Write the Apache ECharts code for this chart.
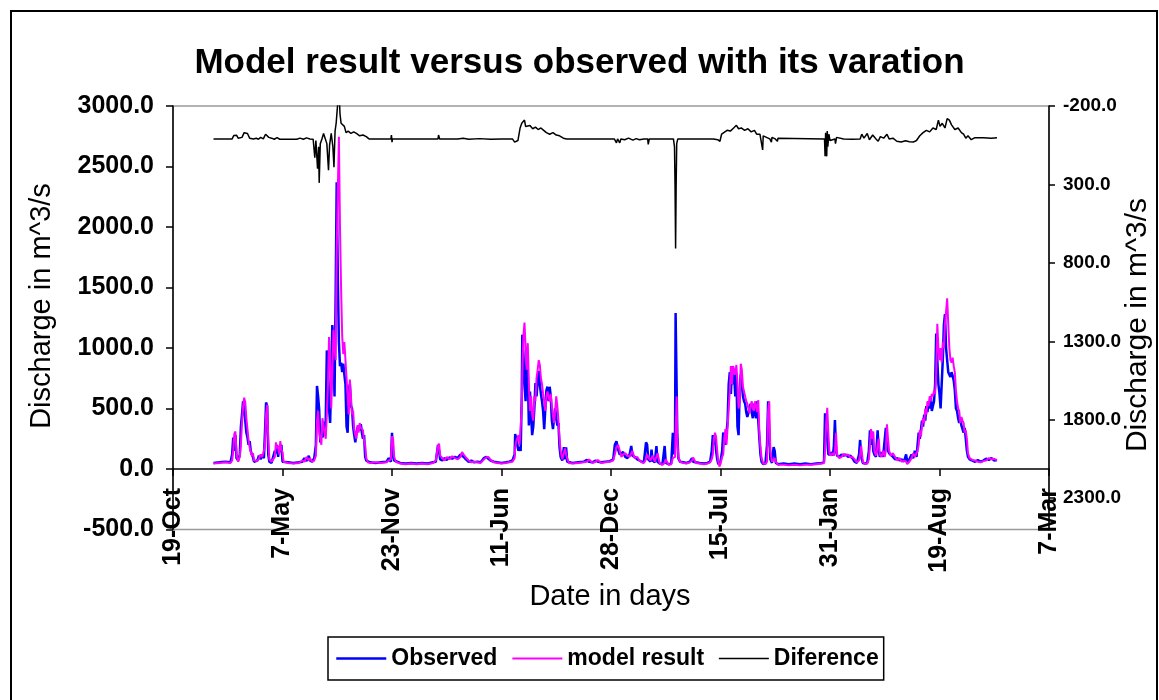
<!DOCTYPE html>
<html>
<head>
<meta charset="utf-8">
<title>Model result versus observed</title>
<script src="https://cdn.jsdelivr.net/npm/echarts@6/dist/echarts.min.js"></script>
<style>
  html, body { margin: 0; padding: 0; background: #ffffff; }
  #chart { width: 1159px; height: 700px; }
</style>
</head>
<body>
<div id="chart"></div>
<script>
// x values are days counted from 19-Oct-1993 (left end of the date axis).
const tickLabels = ['19-Oct', '7-May', '23-Nov', '11-Jun', '28-Dec', '15-Jul', '31-Jan', '19-Aug', '7-Mar'];
const rightTicks = [-200, 300, 800, 1300, 1800, 2300];

// Daily discharge (m^3/s), sampled at the days below
const flowDays = [
  74, 85, 95, 105, 108, 110, 112, 114, 116, 119, 122, 124, 126, 128, 130, 132, 134, 136, 138, 140,
  142, 144, 146, 148, 151, 154, 157, 160, 163, 166, 168, 170, 172, 174, 176, 180, 183, 186, 188, 190,
  192, 194, 196, 198, 200, 202, 210, 220, 230, 236, 240, 244, 248, 250, 254, 258, 261, 263, 265, 267,
  269, 271, 273, 276, 279, 281, 283, 285, 287, 289, 291, 293, 295, 297, 299, 301, 303, 305, 307, 309,
  311, 313, 315, 317, 319, 321, 323, 325, 327, 329, 331, 333, 335, 337, 339, 341, 343, 345, 347, 349,
  351, 353, 356,
  360, 370, 380, 390, 394, 398, 400, 402, 404, 407, 415, 425, 435, 445, 455, 465, 475, 480, 484, 486,
  488, 492, 496, 500, 505, 510, 515, 520, 525, 528, 531, 535, 540, 545, 550, 556, 562, 568, 572, 576,
  580, 586, 592, 600, 608, 614, 620,
  622, 624, 625, 627, 629, 631, 633, 635, 637, 638, 640, 642, 644, 646, 648, 650, 652, 654, 656, 658,
  660, 662, 664, 666, 668, 670, 672, 674, 676, 678, 680, 682, 684, 686, 688, 690, 692, 694, 696, 698,
  700, 702, 704, 706, 708, 711, 714, 716, 718, 720, 723,
  730, 740, 750, 756, 760, 766, 772, 776, 782, 790, 798, 804, 807, 810, 813, 816, 819, 822, 826, 830,
  834, 837, 839, 843, 848, 852, 856, 860, 864, 866, 868, 872, 874, 876, 880, 883, 885, 889, 894, 898,
  900, 905, 910, 913, 915, 917, 918, 920, 921, 923, 926, 932, 938, 944, 948, 950, 955, 962, 970, 976,
  981, 984, 986, 988, 990, 992, 994, 996, 998, 1000, 1003, 1005, 1007, 1009, 1011,
  1013, 1015, 1017, 1019, 1021, 1023, 1025, 1027, 1029, 1031, 1033, 1035, 1037, 1039, 1041, 1043, 1045, 1047, 1049, 1051,
  1053, 1055, 1057, 1059, 1061, 1063, 1065, 1067, 1069, 1071, 1073, 1075, 1078, 1082, 1085, 1087, 1089, 1091, 1094, 1097,
  1099, 1101, 1105,
  1115, 1125, 1135, 1145, 1155, 1165, 1175, 1185, 1189, 1191, 1193, 1195, 1197, 1199, 1201, 1203, 1205, 1207, 1209, 1211,
  1213, 1217, 1221, 1225, 1229, 1233, 1237, 1241, 1245, 1249, 1253, 1255, 1257, 1260, 1264, 1268, 1271, 1273, 1275, 1277,
  1279, 1281, 1284, 1287, 1289, 1291, 1294, 1297, 1300, 1302, 1304, 1306, 1308, 1311, 1315, 1319, 1323, 1327, 1331, 1335,
  1339, 1341, 1345, 1349, 1352,
  1355, 1358, 1360, 1362, 1364, 1366, 1368, 1370, 1372, 1374, 1376, 1378, 1380, 1382, 1384, 1386, 1388, 1390, 1392, 1394,
  1396, 1398, 1400, 1402, 1404, 1406, 1408, 1410, 1412, 1414, 1416, 1418, 1420, 1422, 1424, 1426, 1428, 1430, 1432, 1434,
  1436, 1438, 1440, 1442, 1444, 1446, 1448, 1450, 1452, 1455, 1460, 1465, 1470, 1475, 1480, 1485, 1490, 1495, 1500, 1505
];

const observed = [
  50, 55, 60, 55, 120, 260, 150, 280, 90, 70, 120, 350, 450, 560, 480, 400, 300, 260, 200, 230,
  150, 120, 100, 60, 55, 70, 110, 80, 120, 90, 300, 550, 520, 120, 60, 50, 55, 150, 130, 200,
  100, 180, 140, 200, 60, 50, 55, 50, 55, 60, 90, 65, 110, 70, 60, 90, 200, 686, 600, 490,
  220, 330, 260, 250, 400, 980, 850, 500, 380, 750, 1190, 1050, 600, 1400, 2370, 1600, 1050, 850, 880, 800,
  870, 780, 700, 350, 300, 650, 700, 520, 500, 350, 280, 220, 300, 340, 360, 320, 370, 300, 250, 280,
  100, 70, 60,
  55, 50, 55, 60, 90, 60, 300, 120, 70, 55, 50, 45, 50, 45, 50, 45, 55, 60, 200, 150,
  80, 70, 90, 75, 95, 85, 100, 90, 120, 130, 100, 80, 60, 70, 55, 60, 55, 90, 100, 85,
  70, 60, 55, 50, 55, 60, 70,
  70, 120, 290, 280, 200, 150, 180, 150, 600, 1110, 950, 700, 560, 960, 800, 360, 640, 450, 280, 350,
  500, 710, 600, 720, 810, 700, 620, 560, 480, 330, 500, 650, 680, 560, 680, 600, 400, 330, 420, 500,
  420, 360, 380, 180, 100, 70, 180, 80, 180, 60, 55,
  50, 55, 60, 75, 60, 55, 70, 60, 55, 60, 65, 80, 200, 230, 160, 120, 110, 140, 100, 90,
  120, 190, 110, 100, 80, 70, 60, 55, 220, 200, 80, 60, 160, 70, 55, 190, 60, 45, 40, 190,
  50, 40, 45, 300, 120, 300, 1290, 1290, 300, 90, 60, 55, 50, 60, 90, 60, 55, 50, 45, 50,
  60, 150, 280, 200, 280, 150, 80, 40, 30, 60, 150, 300, 280, 200, 300,
  400, 700, 800, 620, 850, 700, 780, 600, 790, 350, 280, 650, 780, 700, 600, 560, 540, 470, 430, 420,
  500, 540, 470, 420, 540, 460, 420, 560, 400, 250, 120, 60, 40, 45, 200, 560, 300, 80, 50, 180,
  150, 50, 40,
  45, 40, 45, 40, 45, 40, 45, 50, 55, 460, 350, 250, 120, 110, 120, 140, 110, 180, 405, 150,
  110, 100, 120, 110, 120, 100, 110, 90, 60, 50, 120, 240, 100, 50, 45, 50, 150, 320, 200, 310,
  150, 120, 100, 320, 150, 100, 140, 100, 90, 340, 200, 150, 130, 140, 100, 80, 90, 70, 80, 60,
  120, 60, 80, 120, 90,
  150, 100, 200, 300, 250, 320, 400, 350, 450, 400, 520, 470, 560, 500, 600, 480, 520, 560, 700, 1120,
  900, 700, 620, 500, 700, 900, 1190, 1280, 1000, 900, 800, 780, 760, 800, 770, 730, 650, 500, 480, 420,
  380, 420, 360, 350, 300, 340, 250, 150, 100, 80, 70, 60, 75, 60, 70, 85, 75, 90, 70, 75
];

const modelResult = [
  45, 50, 55, 50, 70, 150, 290, 310, 120, 60, 100, 200, 380, 520, 590, 550, 420, 330, 240, 180,
  190, 110, 130, 70, 60, 65, 90, 120, 100, 150, 200, 450, 530, 250, 80, 60, 50, 100, 220, 170,
  190, 120, 230, 160, 140, 60, 50, 45, 50, 70, 60, 100, 70, 90, 60, 70, 110, 400, 480, 300,
  300, 200, 420, 320, 250, 450, 700, 1090, 900, 500, 800, 1150, 1000, 900, 1800, 2300, 2745, 2000, 1500, 1100,
  950, 1050, 900, 750, 600, 450, 740, 600, 450, 480, 330, 280, 250, 360, 300, 380, 340, 350, 320, 230,
  200, 90, 55,
  50, 55, 50, 55, 70, 80, 270, 250, 100, 60, 45, 40, 45, 40, 45, 40, 50, 70, 190, 210,
  110, 90, 70, 100, 80, 105, 90, 80, 100, 140, 120, 95, 70, 55, 60, 55, 50, 80, 95, 100,
  75, 55, 50, 45, 50, 55, 60,
  60, 90, 180, 230, 240, 280, 200, 350, 500, 800, 1100, 1210, 1000, 820, 1040, 700, 480, 600, 450, 400,
  600, 560, 750, 820, 900, 860, 750, 700, 620, 560, 480, 600, 640, 650, 560, 620, 520, 440, 380, 480,
  600, 520, 400, 250, 150, 80, 80, 170, 120, 90, 50,
  45, 50, 55, 60, 80, 50, 60, 75, 50, 55, 60, 70, 120, 180, 200, 150, 100, 120, 130, 110,
  100, 130, 150, 90, 100, 70, 55, 50, 80, 120, 100, 70, 60, 110, 60, 70, 130, 45, 35, 50,
  80, 35, 40, 90, 80, 100, 300, 600, 250, 100, 60, 50, 45, 55, 70, 95, 50, 45, 40, 45,
  55, 80, 120, 250, 300, 260, 150, 60, 20, 40, 100, 120, 260, 330, 200,
  350, 500, 650, 850, 700, 850, 820, 780, 860, 700, 500, 560, 870, 820, 680, 640, 600, 560, 540, 500,
  460, 520, 560, 500, 480, 560, 520, 470, 570, 300, 180, 90, 45, 40, 60, 480, 560, 150, 60, 60,
  90, 60, 35,
  35, 30, 35, 30, 35, 35, 40, 45, 50, 150, 380, 505, 300, 130, 110, 120, 130, 110, 150, 300,
  120, 90, 100, 125, 110, 120, 95, 100, 80, 55, 70, 120, 190, 60, 40, 45, 80, 200, 330, 250,
  310, 150, 110, 120, 250, 120, 100, 150, 100, 150, 370, 250, 150, 110, 130, 100, 70, 90, 60, 70,
  60, 40, 60, 90, 130,
  100, 130, 150, 200, 320, 270, 350, 420, 380, 500, 450, 560, 520, 600, 560, 620, 600, 650, 620, 800,
  1200, 1000, 900, 1000, 880, 1050, 1000, 1200, 1300, 1410, 1200, 1000, 900, 880, 920, 850, 800, 650, 560, 500,
  480, 380, 430, 400, 380, 300, 320, 250, 130, 90, 75, 70, 60, 55, 65, 70, 90, 80, 85, 70
];

// Observed minus model result (m^3/s), right-hand axis
const diffDays = [
  74, 108, 111, 116, 119, 126, 130, 133, 136, 140, 143, 147, 152, 156, 160, 165, 169, 172, 175, 180,
  185, 190, 195, 226, 232, 238, 244, 250, 256, 259, 261, 264, 266, 267, 269, 272, 275, 278, 281, 284,
  286, 289, 292, 294, 296, 298, 300, 302, 303, 305, 307, 310, 313, 316, 320, 325, 330, 335, 341, 347,
  353, 358, 398, 399, 400, 401, 484, 485, 487, 520, 530, 540, 560, 580, 600, 620, 624, 627, 630, 634,
  637, 640, 642, 644, 647, 652, 657, 662, 667, 672, 677, 682, 688, 694, 700, 706, 713, 719, 806, 810,
  812, 816, 818, 825, 832, 840, 846, 852, 860, 867, 868, 870, 914, 916, 917, 918, 919, 920, 922, 987,
  990, 995, 999, 1002, 1006, 1012, 1018, 1024, 1029, 1033, 1038, 1044, 1050, 1056, 1062, 1066, 1072, 1075, 1077, 1078,
  1084, 1090, 1093, 1094, 1100, 1104, 1105, 1190, 1191, 1192, 1193, 1194, 1195, 1196, 1198, 1200, 1203, 1209, 1210, 1212,
  1225, 1240, 1255, 1258, 1262, 1268, 1272, 1278, 1284, 1288, 1292, 1298, 1304, 1308, 1315, 1322, 1330, 1338, 1345, 1352,
  1358, 1364, 1370, 1376, 1382, 1388, 1394, 1398, 1401, 1405, 1410, 1414, 1418, 1422, 1428, 1434, 1440, 1444, 1448, 1452,
  1458, 1464, 1480, 1495, 1505
];

const difference = [
  10, 10, -12, -14, 5, 0, -30, -36, -25, 5, -5, 10, 5, 12, 0, 10, -20, -28, 0, 5,
  12, 2, 12, 12, 5, 12, 3, 10, 12, 130, 20, 200, 60, 290, 40, 10, -25, -30, 40, 210,
  50, -25, 60, 190, -40, -90, -180, -260, -320, -150, -90, -80, -70, -30, -40, -25, -35, -25, -10, -15,
  -5, 10, 10, -15, 30, 10, 10, -15, 10, 10, 5, 12, 8, 12, 10, 10, 30, 40, 20, -60,
  -90, -80, -110, -70, -60, -75, -55, -65, -50, -60, -45, -30, -20, -30, -15, -10, 5, 10, 10, 35,
  10, 35, 10, 15, 5, 18, 8, 15, 10, 10, 45, 10, 10, 60, 320, 709, 300, 40, 10, 10,
  20, 15, 25, -20, -30, -45, -40, -60, -77, -55, -60, -45, -55, -35, -45, -20, -20, -15, 80, -10,
  0, 10, 30, 0, 10, 25, 5, 10, 120, -30, 80, 121, -40, 60, -20, 20, 10, 10, 40, 0,
  10, 12, 10, -20, 5, -25, 15, -15, 10, 25, -5, 5, -20, 10, 5, 25, 30, 22, 28, 30,
  20, -10, -30, -45, -35, -60, -50, -110, -70, -90, -60, -120, -110, -80, -50, -60, -30, -20, 5, -10,
  15, 3, 2, 5, 3
];

const FONT = "'Liberation Sans', Arial, Helvetica, sans-serif";
const toPairs = (days, vals) => days.map((d, i) => [d, vals[i]]);
const axisColor = '#000000';

const chart = echarts.init(document.getElementById('chart'), null, { renderer: 'canvas' });

chart.setOption({
  animation: false,
  backgroundColor: '#ffffff',
  title: {
    text: 'Model result versus observed with its varation',
    left: 'center',
    top: 46,
    padding: 0,
    textStyle: { fontFamily: FONT, fontSize: 35, fontWeight: 'bold', color: '#000' }
  },
  grid: {
    left: 173, right: 110, top: 106, bottom: 170.5,
    show: true, borderColor: '#9a9a9a', borderWidth: 1.5, backgroundColor: 'transparent'
  },
  legend: {
    left: 328, top: 637,
    orient: 'horizontal',
    itemWidth: 50, itemHeight: 12, itemGap: 14,
    padding: [10, 5, 10, 7],
    borderColor: '#000', borderWidth: 1.5,
    lineStyle: { width: 'inherit' },
    itemStyle: { opacity: 0, borderWidth: 0 },
    textStyle: { fontFamily: FONT, fontSize: 23, fontWeight: 'bold', color: '#000' },
    data: ['Observed', 'model result', 'Diference']
  },
  xAxis: {
    type: 'value', min: 0, max: 1600, interval: 200,
    axisLine: { onZero: true, onZeroAxisIndex: 0, lineStyle: { color: axisColor, width: 1.5 } },
    axisTick: { show: true, length: 7, lineStyle: { color: axisColor, width: 1.5 } },
    splitLine: { show: false },
    axisLabel: {
      rotate: 90, margin: -41.5, showMinLabel: true, showMaxLabel: true,
      fontFamily: FONT, fontSize: 25, fontWeight: 'bold', color: '#000',
      formatter: v => tickLabels[Math.round(v / 200)]
    }
  },
  yAxis: [
    {
      type: 'value', position: 'left', min: -500, max: 3000, interval: 500,
      axisLine: { show: true, onZero: false, lineStyle: { color: axisColor, width: 1.5 } },
      axisTick: { show: true, length: 7, lineStyle: { color: axisColor, width: 1.5 } },
      splitLine: { show: false },
      axisLabel: {
        margin: 19, fontFamily: FONT, fontSize: 25, fontWeight: 'bold', color: '#000',
        formatter: v => v.toFixed(1)
      }
    },
    {
      type: 'value', position: 'right', min: -200, max: 2500, inverse: true,
      axisLine: { show: true, onZero: false, lineStyle: { color: axisColor, width: 1.5 } },
      axisTick: { show: true, length: 6, customValues: rightTicks, lineStyle: { color: axisColor, width: 1.5 } },
      splitLine: { show: false },
      axisLabel: {
        customValues: rightTicks, margin: 14,
        fontFamily: FONT, fontSize: 19, fontWeight: 'bold', color: '#000',
        formatter: v => v.toFixed(1)
      }
    }
  ],
  series: [
    {
      name: 'Observed', type: 'line', yAxisIndex: 0,
      data: toPairs(flowDays, observed),
      symbol: 'none', clip: true, color: '#0000ff',
      lineStyle: { color: '#0000ff', width: 2.5 }
    },
    {
      name: 'model result', type: 'line', yAxisIndex: 0,
      data: toPairs(flowDays, modelResult),
      symbol: 'none', clip: true, color: '#ff00ff',
      lineStyle: { color: '#ff00ff', width: 2 }
    },
    {
      name: 'Diference', type: 'line', yAxisIndex: 1,
      data: toPairs(diffDays, difference),
      symbol: 'none', clip: true, color: '#000000',
      lineStyle: { color: '#000000', width: 1.5 }
    }
  ],
  graphic: [
    {
      type: 'rect', silent: true,
      shape: { x: 11, y: 11, width: 1146, height: 700 },
      style: { fill: 'none', stroke: '#000', lineWidth: 2 }
    },
    {
      type: 'text', x: 42, y: 306, rotation: Math.PI / 2,
      style: {
        text: 'Discharge in m^3/s', fontFamily: FONT, fontSize: 29, fill: '#000',
        align: 'center', verticalAlign: 'middle', textAlign: 'center', textVerticalAlign: 'middle'
      }
    },
    {
      type: 'text', x: 1138, y: 325, rotation: Math.PI / 2,
      style: {
        text: 'Discharge in m^3/s', fontFamily: FONT, fontSize: 30, fill: '#000',
        align: 'center', verticalAlign: 'middle', textAlign: 'center', textVerticalAlign: 'middle'
      }
    },
    {
      type: 'text', x: 610, y: 597,
      style: {
        text: 'Date in days', fontFamily: FONT, fontSize: 29, fill: '#000',
        align: 'center', verticalAlign: 'middle', textAlign: 'center', textVerticalAlign: 'middle'
      }
    }
  ]
});
</script>
</body>
</html>
